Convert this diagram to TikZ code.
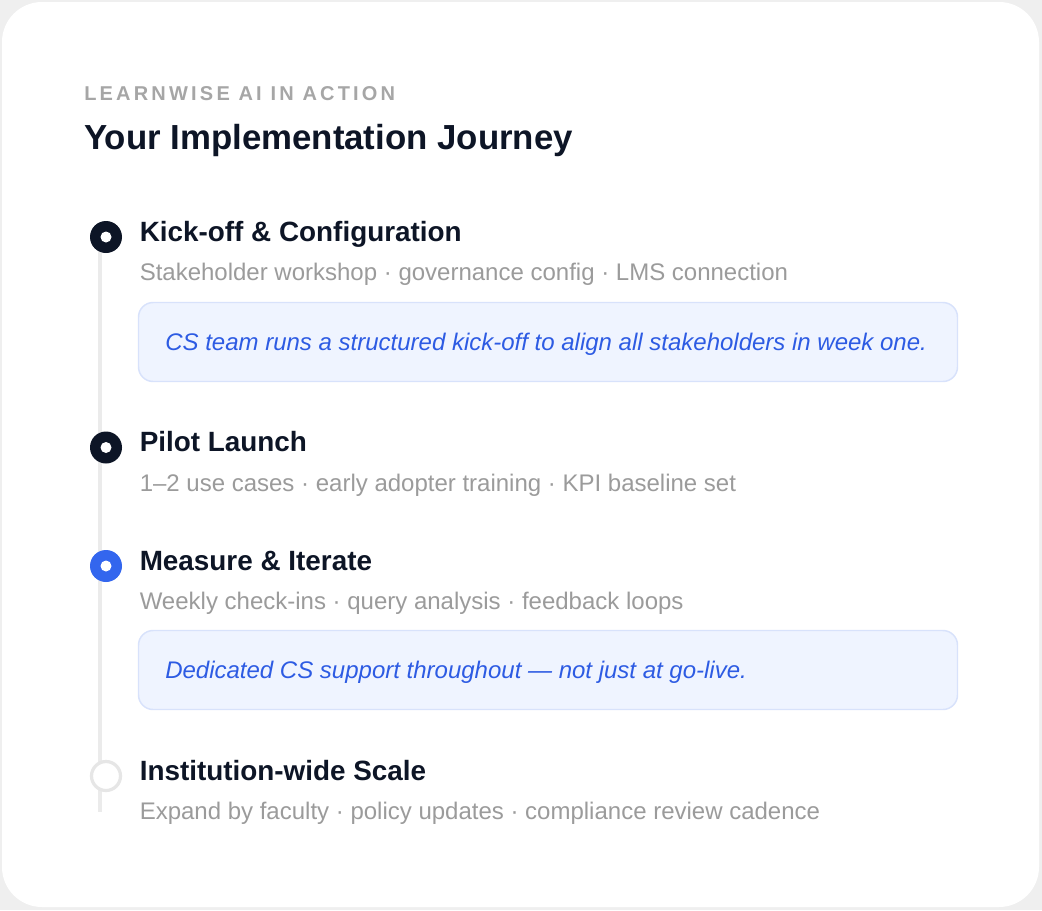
\documentclass[tikz,border=0pt]{standalone}
\usepackage{fontspec}
\setmainfont{Liberation Sans}
\newfontfamily\trackfont[LetterSpace=16]{Liberation Sans}
\definecolor{pagegray}{HTML}{EFEFEF}
\definecolor{navy}{HTML}{0D1526}
\definecolor{stepblue}{HTML}{3366EE}
\definecolor{calltext}{HTML}{2D5BE3}
\definecolor{callfill}{HTML}{EFF4FF}
\definecolor{callline}{HTML}{D8E2FB}
\definecolor{subgray}{HTML}{9B9B9B}
\definecolor{headgray}{HTML}{A6A6A6}
\definecolor{railgray}{HTML}{EBEBEB}
\definecolor{ringgray}{HTML}{E6E6E6}
\tikzset{
  dot/.style={circle, fill=#1, minimum size=32*0.75pt, inner sep=0pt},
  hollowdot/.style={circle, draw=ringgray, line width=2.4pt, fill=white, minimum size=29*0.75pt, inner sep=0pt},
  pip/.style={circle, fill=white, minimum size=11*0.75pt, inner sep=0pt},
  steptitle/.style={anchor=base west, inner sep=0pt, text=navy, font=\fontsize{20.9}{24}\selectfont\bfseries},
  stepsub/.style={anchor=base west, inner sep=0pt, text=subgray, font=\fontsize{18}{22}\selectfont},
  callbox/.style={draw=callline, fill=callfill, line width=1.1pt, rounded corners=11pt},
  calltxt/.style={anchor=base west, inner sep=0pt, text=calltext, font=\fontsize{18}{22}\selectfont\itshape},
}
\begin{document}
\begin{tikzpicture}[x=0.75pt,y=-0.75pt]
\useasboundingbox (0,0) rectangle (1042,910);
\fill[pagegray] (0,0) rectangle (1042,910);
\fill[white, rounded corners=30pt] (2,2) rectangle (1039,907);

\node[anchor=base west, inner sep=0pt, text=headgray, font=\fontsize{15}{18}\trackfont\bfseries] (kicker) at (84,100) {LEARNWISE AI IN ACTION};
\node[anchor=base west, inner sep=0pt, text=navy, font=\fontsize{26.1}{30}\selectfont\bfseries] (heading) at (84,149) {Your Implementation Journey};

\coordinate (railtop) at (100,240);
\coordinate (railend) at (100,812);
\draw[railgray, line width=3pt] (railtop) -- (railend);

\node[dot=navy] (c1) at (106,237) {};
\node[pip] at (c1) {};
\node[dot=navy] (c2) at (106,447.5) {};
\node[pip] at (c2) {};
\node[dot=stepblue] (c3) at (106,566) {};
\node[pip] at (c3) {};
\node[hollowdot] (c4) at (106,776) {};

\node[steptitle] (t1) at (139.5,241) {Kick-off \& Configuration};
\node[stepsub] (s1) at (139.5,280.5) {Stakeholder workshop · governance config · LMS connection};
\draw[callbox] (138.5,302.5) rectangle (957.5,381.5);
\node[calltxt] (n1) at (165,350) {CS team runs a structured kick-off to align all stakeholders in week one.};

\node[steptitle] (t2) at (139.5,451.5) {Pilot Launch};
\node[stepsub] (s2) at (139.5,491) {1–2 use cases · early adopter training · KPI baseline set};

\node[steptitle] (t3) at (139.5,570) {Measure \& Iterate};
\node[stepsub] (s3) at (139.5,609.5) {Weekly check-ins · query analysis · feedback loops};
\draw[callbox] (138.5,630.5) rectangle (957.5,709.5);
\node[calltxt] (n2) at (165,678) {Dedicated CS support throughout — not just at go-live.};

\node[steptitle] (t4) at (139.5,780) {Institution-wide Scale};
\node[stepsub] (s4) at (139.5,819.5) {Expand by faculty · policy updates · compliance review cadence};
\end{tikzpicture}
\end{document}
